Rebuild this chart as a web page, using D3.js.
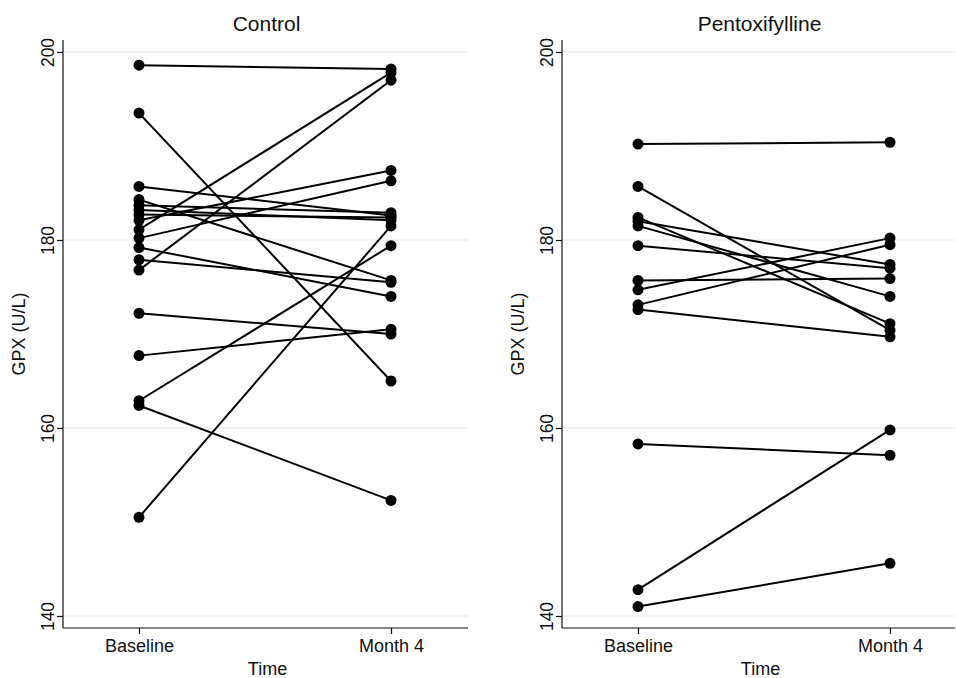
<!DOCTYPE html>
<html>
<head>
<meta charset="utf-8">
<script src="https://cdn.jsdelivr.net/npm/d3@7"></script>
<style>
  body { margin: 0; background: #fff; }
  text { font-family: "Liberation Sans", Arial, sans-serif; fill: #111; }
</style>
</head>
<body>
<div id="chart"></div>
<script>
const times = ['Baseline', 'Month 4'];
const yTicks = [140, 160, 180, 200];

// paired values per subject: baseline -> month 4
const controlBaseline = [198.6, 193.5, 185.7, 184.3, 183.7, 183.2, 182.7, 182.1, 181.1, 180.2, 179.2, 177.9, 176.8, 172.2, 167.7, 162.9, 162.4, 150.5];
const controlMonth4   = [198.2, 165.0, 182.6, 175.7, 182.9, 182.1, 182.4, 187.4, 197.8, 186.3, 174.0, 175.5, 197.0, 170.0, 170.5, 179.4, 152.3, 181.5];

const pentoxBaseline = [190.2, 185.7, 182.4, 182.0, 181.5, 179.4, 175.7, 174.7, 173.1, 172.6, 158.3, 142.8, 141.0];
const pentoxMonth4   = [190.4, 170.4, 171.1, 177.4, 174.0, 177.0, 175.9, 180.2, 179.5, 169.7, 157.1, 159.8, 145.6];

const width = 956, height = 678;
const svg = d3.select('#chart').append('svg')
    .attr('width', width)
    .attr('height', height);

const plotTop = 40, plotBottom = 628;
const y = d3.scaleLinear().domain([140, 200]).range([616, 52]);
const font = '"Liberation Sans", Arial, sans-serif';

function drawPanel(title, left, right, base, m4) {
  const g = svg.append('g');
  const x = d3.scalePoint().domain(times).range([left + 76, left + 328]);

  // gridlines
  g.selectAll('.grid')
    .data(yTicks)
    .enter().append('line')
      .attr('x1', left).attr('x2', right)
      .attr('y1', d => y(d)).attr('y2', d => y(d))
      .attr('stroke', '#e6e6e6')
      .attr('stroke-width', 1.2);

  // y axis, labels rotated
  const yAxis = g.append('g')
    .attr('transform', `translate(${left},0)`)
    .call(d3.axisLeft(y).tickValues(yTicks).tickSize(6).tickSizeOuter(0));
  yAxis.select('.domain').remove();
  yAxis.selectAll('line').attr('stroke', '#111').attr('stroke-width', 1.2);
  yAxis.selectAll('text')
    .attr('transform', 'rotate(-90)')
    .attr('x', 0)
    .attr('y', -9)
    .attr('dy', 0)
    .attr('text-anchor', 'middle')
    .style('font-size', '17.5px')
    .style('font-family', font)
    .attr('fill', '#111');

  g.append('line')
    .attr('x1', left).attr('x2', left)
    .attr('y1', plotTop).attr('y2', plotBottom)
    .attr('stroke', '#111').attr('stroke-width', 1.2);

  // x axis
  const xAxis = g.append('g')
    .attr('transform', `translate(0,${plotBottom})`)
    .call(d3.axisBottom(x).tickSize(6).tickSizeOuter(0));
  xAxis.select('.domain').remove();
  xAxis.selectAll('line').attr('stroke', '#111').attr('stroke-width', 1.2);
  xAxis.selectAll('text')
    .attr('y', 10)
    .attr('dy', '0.75em')
    .style('font-size', '18px')
    .style('font-family', font)
    .attr('fill', '#111');

  g.append('line')
    .attr('x1', left).attr('x2', right)
    .attr('y1', plotBottom).attr('y2', plotBottom)
    .attr('stroke', '#111').attr('stroke-width', 1.2);

  // titles
  g.append('text')
    .attr('x', (left + right) / 2 + 1)
    .attr('y', 31)
    .attr('text-anchor', 'middle')
    .style('font-size', '21px')
    .text(title);

  g.append('text')
    .attr('x', (left + right) / 2 + 2)
    .attr('y', 675)
    .attr('text-anchor', 'middle')
    .style('font-size', '18px')
    .text('Time');

  g.append('text')
    .attr('transform', `translate(${left - 38},${(y(140) + y(200)) / 2}) rotate(-90)`)
    .attr('text-anchor', 'middle')
    .style('font-size', '18px')
    .text('GPX (U/L)');

  // subject lines
  const pairs = base.map((b, i) => ({ b: b, m: m4[i] }));
  g.selectAll('.pair')
    .data(pairs)
    .enter().append('line')
      .attr('x1', x('Baseline')).attr('x2', x('Month 4'))
      .attr('y1', d => y(d.b)).attr('y2', d => y(d.m))
      .attr('stroke', '#000')
      .attr('stroke-width', 2);

  const pts = pairs.flatMap(d => [['Baseline', d.b], ['Month 4', d.m]]);
  g.selectAll('.pt')
    .data(pts)
    .enter().append('circle')
      .attr('cx', d => x(d[0]))
      .attr('cy', d => y(d[1]))
      .attr('r', 5.5)
      .attr('fill', '#000');
}

drawPanel('Control', 63, 468, controlBaseline, controlMonth4);
drawPanel('Pentoxifylline', 562, 955, pentoxBaseline, pentoxMonth4);
</script>
</body>
</html>
